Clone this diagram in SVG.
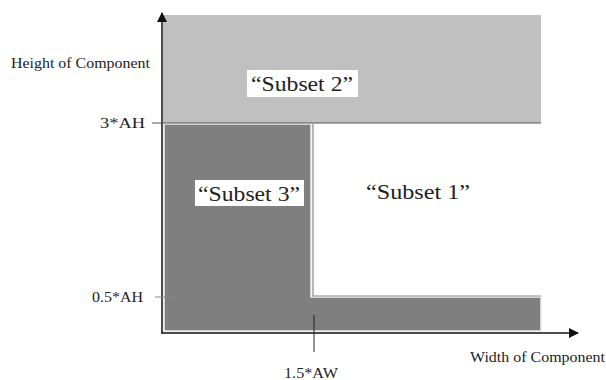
<svg xmlns="http://www.w3.org/2000/svg" width="606" height="380" viewBox="0 0 606 380">
<style>
.t{font-family:"Liberation Serif","Times New Roman",serif;fill:#222;}
.ax{stroke:#111;stroke-width:1.5;fill:none;}
.lbl{fill:#fff;}
</style>
<defs>
<marker id="ah" markerWidth="10" markerHeight="10" refX="9" refY="5" orient="auto" markerUnits="userSpaceOnUse">
<path d="M0,0 L10,5 L0,10 Z" fill="#111"/>
</marker>
</defs>
<rect width="606" height="380" fill="#fff"/>
<g id="subset2">
<rect x="163" y="15" width="378" height="108" fill="#c0c0c0"/>
<rect class="lbl" x="247" y="70" width="111" height="27"/>
<text class="t" x="302" y="91" font-size="21" text-anchor="middle" textLength="102" lengthAdjust="spacingAndGlyphs">“Subset 2”</text>
</g>
<g id="subset3">
<path d="M164,124 L311,124 L311,297 L541,297 L541,331 L164,331 Z" fill="#7f7f7f" stroke="#eee" stroke-width="1.5"/>
<rect class="lbl" x="195" y="180" width="109" height="26"/>
<text class="t" x="249" y="201" font-size="21" text-anchor="middle" textLength="102" lengthAdjust="spacingAndGlyphs">“Subset 3”</text>
</g>
<g id="subset1">
<path d="M313,124 L313,296 L541,296" fill="none" stroke="#888" stroke-width="1.2"/>
<text class="t" x="418" y="199" font-size="21" text-anchor="middle" textLength="104" lengthAdjust="spacingAndGlyphs">“Subset 1”</text>
</g>
<g id="connectors">
<line class="ax" x1="162" y1="333" x2="162" y2="13" marker-end="url(#ah)"/>
<line class="ax" x1="161" y1="333" x2="578" y2="333" marker-end="url(#ah)"/>
<line x1="152" y1="123" x2="541" y2="123" stroke="#555" stroke-width="1.2"/>
<line x1="155" y1="297" x2="174" y2="297" stroke="#888" stroke-width="1"/>
<line x1="314" y1="315" x2="314" y2="352" stroke="#222" stroke-width="1"/>
</g>
<g id="labels">
<text class="t" x="11" y="68" font-size="14" textLength="139" lengthAdjust="spacingAndGlyphs">Height of Component</text>
<text class="t" x="100" y="128" font-size="14" textLength="45" lengthAdjust="spacingAndGlyphs">3*AH</text>
<text class="t" x="92" y="302" font-size="14" textLength="51" lengthAdjust="spacingAndGlyphs">0.5*AH</text>
<text class="t" x="284" y="378" font-size="14" textLength="54" lengthAdjust="spacingAndGlyphs">1.5*AW</text>
<text class="t" x="470" y="362" font-size="14" textLength="135" lengthAdjust="spacingAndGlyphs">Width of Component</text>
</g>
</svg>
